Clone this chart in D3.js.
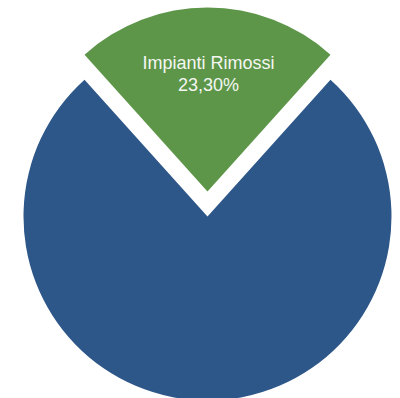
<!DOCTYPE html>
<html>
<head>
<meta charset="utf-8">
<script src="https://cdn.jsdelivr.net/npm/d3@7"></script>
<style>
  html, body { margin: 0; padding: 0; background: #fff; }
</style>
</head>
<body>
<div id="pie-container"></div>
<script>
const svgWidth = 400;
const svgHeight = 398;

const categories = ["Impianti Rimossi", "Altri"];
const values = [23.3, 76.7];
const labels = ["23,30%", ""];
const colors = ["#5d9649", "#2e5789"];

const cx = 207.5;
const cy = 216.5;
const radius = 184;
const explode = 25;

const svg = d3.select("#pie-container")
    .append("svg")
    .attr("width", svgWidth)
    .attr("height", svgHeight)
    .append("g")
    .attr("transform", `translate(${cx}, ${cy})`);

const data = categories.map((c, i) => ({ name: c, value: values[i], label: labels[i], color: colors[i] }));

// green slice centered at the top
const half = Math.PI * values[0] / 100;
const pie = d3.pie()
    .sort(null)
    .value(d => d.value)
    .startAngle(-half)
    .endAngle(2 * Math.PI - half);

const arc = d3.arc().innerRadius(0).outerRadius(radius);
const labelArc = d3.arc().innerRadius(118).outerRadius(118);

const slices = svg.selectAll("g.slice")
    .data(pie(data))
    .enter().append("g")
    .attr("class", "slice")
    .attr("transform", (d, i) => {
        if (i !== 0) return null;
        const mid = (d.startAngle + d.endAngle) / 2;
        return `translate(${Math.sin(mid) * explode}, ${-Math.cos(mid) * explode})`;
    });

slices.append("path")
    .attr("d", arc)
    .attr("fill", d => d.data.color);

const lbl = slices.filter((d, i) => i === 0)
    .append("text")
    .attr("transform", d => `translate(${labelArc.centroid(d)})`)
    .attr("text-anchor", "middle")
    .style("font-family", "'Liberation Sans', Arial, sans-serif")
    .style("font-size", "18px")
    .style("fill", "#f4f7f2");

lbl.append("tspan")
    .attr("x", 1)
    .attr("y", -4.5)
    .text(d => d.data.name);

lbl.append("tspan")
    .attr("x", 1)
    .attr("y", 17)
    .text(d => d.data.label);
</script>
</body>
</html>
